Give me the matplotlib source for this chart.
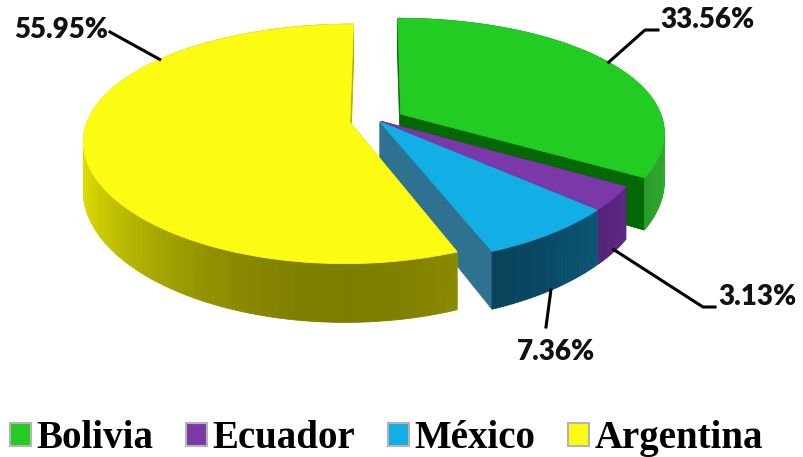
import numpy as np
import matplotlib.pyplot as plt
from matplotlib.patches import Polygon, Patch
import matplotlib.colors as mcolors

# data
labels = ['Bolivia', 'Ecuador', 'México', 'Argentina']
values = [33.56, 3.13, 7.36, 55.95]
pct_text = ['33.56%', '3.13%', '7.36%', '55.95%']

# styles
explode = [0.105, 0.02, 0.02, 0.105]
top_colors = ['#22cc22', '#7a38a8', '#12aee6', '#fcfc12']
side_colors = ['#2fb02f', '#6a2e96', '#0e6c94', '#e4e400']
face_colors = ['#046804', '#4a1f6b', '#2f7191', '#b0b000']

# projection of the pie plane into pixel space
cx, cy = 377, 120
sx, sy = 262, 115
px, py = 0.15, 0.18
depth = 48


def project(X, Z, h=0.0):
    wx = 1 + px * Z
    wy = 1 + py * Z
    return cx + sx * X / wx, cy + (-sy * Z + depth * h) / wy


def shade(c, f):
    r, g, b = mcolors.to_rgb(c)
    return (min(r * f, 1), min(g * f, 1), min(b * f, 1))


fig = plt.figure(figsize=(8.04, 4.57), dpi=100)
ax = fig.add_axes([0, 0, 1, 1])
ax.set_xlim(0, 804)
ax.set_ylim(457, 0)
ax.axis('off')

# angles, clockwise from 12 o'clock
bounds = 90 - 360 * np.concatenate([[0], np.cumsum(values)]) / sum(values)
wedges = []
for i in range(len(values)):
    a0, a1 = bounds[i], bounds[i + 1]
    mid = np.radians((a0 + a1) / 2)
    ox, oz = explode[i] * np.cos(mid), explode[i] * np.sin(mid)
    th = np.radians(np.linspace(a0, a1, max(int(abs(a1 - a0)), 4)))
    wedges.append((ox, oz, th))

# drawing order: back wedges first
for i in [0, 1, 2, 3]:
    ox, oz, th = wedges[i]
    X = ox + np.cos(th)
    Z = oz + np.sin(th)
    faces = []
    # outer wall
    for j in range(len(th) - 1):
        pts = [project(X[j], Z[j]), project(X[j + 1], Z[j + 1]),
               project(X[j + 1], Z[j + 1], 1), project(X[j], Z[j], 1)]
        t = (th[j] + th[j + 1]) / 2
        f = 0.55 + 0.45 * np.cos(t) ** 2
        faces.append(((Z[j] + Z[j + 1]) / 2, pts, shade(side_colors[i], f)))
    # radial walls
    for k in [0, -1]:
        pts = [project(ox, oz), project(X[k], Z[k]),
               project(X[k], Z[k], 1), project(ox, oz, 1)]
        faces.append(((oz + Z[k]) / 2, pts, face_colors[i]))
    faces.sort(key=lambda q: -q[0])
    for _, pts, col in faces:
        ax.add_patch(Polygon(pts, closed=True, facecolor=col,
                             edgecolor=col, linewidth=0.6))
    top = [project(ox, oz)] + [project(x, z) for x, z in zip(X, Z)]
    ax.add_patch(Polygon(top, closed=True, facecolor=top_colors[i],
                         edgecolor=top_colors[i], linewidth=0.6))

# value labels with leader lines
anchor_ang = [30, None, None, 143]
anchor_h = [0, 0.95, 1.0, 0]
elbows = [[(645, 30), (658, 30)], [(703, 307), (715, 307)],
          [(546, 327)], [(110, 32)]]
text_pos = [(660, 20, 'left'), (718, 297, 'left'),
            (556, 352, 'center'), (108, 30, 'right')]
for i in range(len(values)):
    ox, oz, th = wedges[i]
    a = np.radians(anchor_ang[i]) if anchor_ang[i] is not None else th.mean()
    start = project(ox + np.cos(a), oz + np.sin(a), anchor_h[i])
    line = [start] + elbows[i]
    ax.plot([p[0] for p in line], [p[1] for p in line], color='black', lw=2.2)
    tx, ty, ha = text_pos[i]
    ax.text(tx, ty, pct_text[i], ha=ha, va='center', fontsize=20,
            fontweight='heavy', family='Lato', color='#111111')

handles = [Patch(facecolor=c, edgecolor='#b4b4b4', linewidth=1.5) for c in top_colors]
fig.legend(handles, labels, loc='lower left', bbox_to_anchor=(-0.022, -0.06),
           ncol=4, frameon=False, prop={'family': 'Liberation Serif', 'weight': 'bold', 'size': 28},
           handlelength=0.55, handleheight=0.55, handletextpad=0.15,
           columnspacing=0.82, borderpad=0.2)

fig.savefig('out.png', dpi=100)
